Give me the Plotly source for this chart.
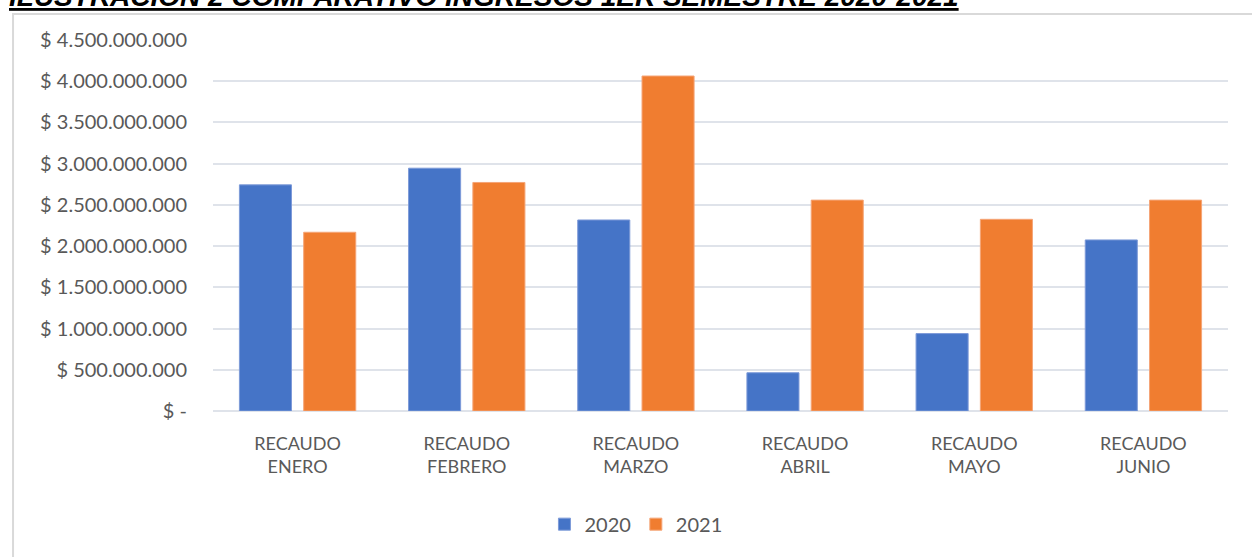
"""Comparativo de ingresos 1er semestre 2020-2021 (barras agrupadas)."""

import plotly.graph_objects as go

MESES = ["ENERO", "FEBRERO", "MARZO", "ABRIL", "MAYO", "JUNIO"]
CATEGORIAS = [f"RECAUDO<br>{m}" for m in MESES]

RECAUDO_2020 = [2_743_000_000, 2_945_000_000, 2_317_000_000, 464_000_000, 939_000_000, 2_075_000_000]
RECAUDO_2021 = [2_168_000_000, 2_772_000_000, 4_063_000_000, 2_558_000_000, 2_325_000_000, 2_558_000_000]

TICK_VALS = [i * 500_000_000 for i in range(10)]
TICK_TEXT = ["$ -"] + [
    "$ " + f"{v:,}".replace(",", ".") for v in TICK_VALS[1:]
]

TITULO = "ILUSTRACIÓN 2 COMPARATIVO INGRESOS 1ER SEMESTRE 2020-2021"

AZUL = "#4574c7"
NARANJA = "#f07d30"
GRIS_TEXTO = "#595959"
GRIS_GRID = "#dfe3ea"
FONT = "Lato"

fig = go.Figure()
fig.add_bar(
    x=CATEGORIAS, y=RECAUDO_2020, name="2020",
    marker=dict(color=AZUL, line=dict(color="#7d9ad8", width=1)),
)
fig.add_bar(
    x=CATEGORIAS, y=RECAUDO_2021, name="2021",
    marker=dict(color=NARANJA, line=dict(color="#f5a577", width=1)),
)

fig.update_layout(
    width=1252,
    height=557,
    margin=dict(l=213, r=24, t=40, b=146),
    paper_bgcolor="white",
    plot_bgcolor="white",
    barmode="group",
    bargap=0.24,
    bargroupgap=0.19,
    font=dict(family=FONT, color=GRIS_TEXTO, size=18),
    legend=dict(
        orientation="h",
        x=0.4167, xanchor="center",
        y=-0.305, yanchor="middle",
        font=dict(size=20, color=GRIS_TEXTO),
        itemwidth=30,
        traceorder="normal",
    ),
    showlegend=True,
)

fig.update_yaxes(
    range=[0, 4_500_000_000],
    tickvals=TICK_VALS,
    ticktext=TICK_TEXT,
    showgrid=True,
    gridcolor=GRIS_GRID,
    gridwidth=1.5,
    zeroline=True,
    zerolinecolor=GRIS_GRID,
    zerolinewidth=1.5,
    tickfont=dict(size=20, color=GRIS_TEXTO),
    ticklabelstandoff=25,
    showline=False,
)
fig.update_xaxes(
    showgrid=False,
    showline=False,
    tickfont=dict(size=18, color=GRIS_TEXTO),
    ticklabelstandoff=20,
)

# marco del grafico
fig.add_shape(
    type="rect", xref="paper", yref="paper",
    x0=-0.197, x1=1.05, y0=-0.45, y1=1.070,
    line=dict(color="#d9d9d9", width=2),
    layer="below",
)

# titulo (recortado en la parte superior, como en el documento)
fig.add_annotation(
    text=f"<b><i><u>{TITULO}</u></i></b>",
    xref="paper", yref="paper",
    x=-0.203, xanchor="left",
    y=1.071, yanchor="bottom",
    showarrow=False,
    font=dict(family="Liberation Sans", size=28, color="black"),
)

# sin margen del body para que la figura ocupe toda la ventana
fig.write_html(
    "out.html",
    config={"displayModeBar": False},
    post_script="document.body.style.margin='0';",
)
